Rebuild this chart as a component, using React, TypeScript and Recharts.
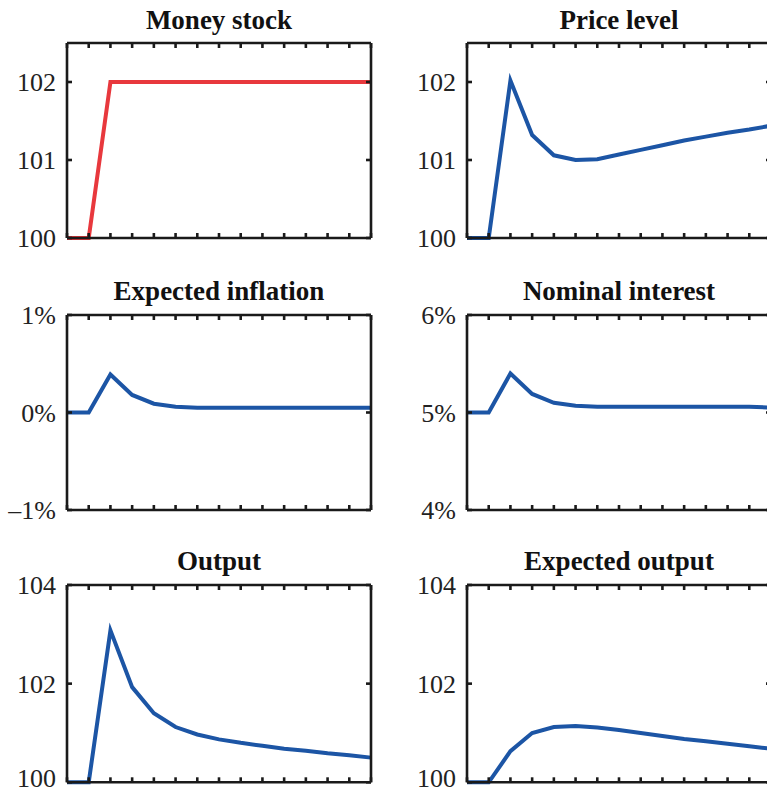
import React from "react";
import { LineChart, Line, XAxis, YAxis } from "recharts";

const steps = [0, 1, 2, 3, 4, 5, 6, 7, 8, 9, 10, 11, 12, 13, 14];

const moneyStock = [100, 100, 102, 102, 102, 102, 102, 102, 102, 102, 102, 102, 102, 102, 102];
const priceLevel = [100, 100, 102.02, 101.32, 101.06, 101.0, 101.01, 101.07, 101.13, 101.19, 101.25, 101.3, 101.35, 101.39, 101.44];
const expectedInflation = [0, 0, 0.39, 0.18, 0.09, 0.06, 0.05, 0.05, 0.05, 0.05, 0.05, 0.05, 0.05, 0.05, 0.05];
const nominalInterest = [5, 5, 5.4, 5.19, 5.1, 5.07, 5.06, 5.06, 5.06, 5.06, 5.06, 5.06, 5.06, 5.06, 5.05];
const output = [100, 100, 103.08, 101.93, 101.4, 101.12, 100.97, 100.87, 100.8, 100.74, 100.68, 100.64, 100.59, 100.55, 100.5];
const expectedOutput = [100, 100, 100.63, 101.0, 101.12, 101.14, 101.11, 101.06, 101.0, 100.94, 100.88, 100.83, 100.78, 100.73, 100.68];

const levelTicks = [100, 101, 102];
const levelDomain = [100, 102.5];
const inflationTicks = [-1, 0, 1];
const interestTicks = [4, 5, 6];
const outputTicks = [100, 102, 104];

const RED = "#e8383d";
const BLUE = "#1c55a5";
const INK = "#1a1a1a";
const SERIF = "'Liberation Serif', 'Times New Roman', serif";

const pct = (v: number) => (v < 0 ? "\u2013" + Math.abs(v) + "%" : v + "%");
const plain = (v: number) => String(v);

const NoLabel = () => <g />;

function makeLabel(fmt: (v: number) => string, bottomLimit: number) {
  return (props: any) => {
    const { x, y, payload } = props;
    const yy = Math.min(y, bottomLimit);
    return (
      <text
        x={x}
        y={yy}
        dy="0.355em"
        textAnchor="end"
        fontFamily={SERIF}
        fontSize={26}
        fill="#222"
      >
        {fmt(payload.value)}
      </text>
    );
  };
}

type PanelProps = {
  title: string;
  values: number[];
  color: string;
  domain: number[];
  ticks: number[];
  fmt: (v: number) => string;
  left: number;
  plotTop: number;
  plotHeight: number;
};

const AXIS_W = 67;
const PLOT_W = 304;
const M_TOP = 13;
const M_BOTTOM = 16;
const M_RIGHT = 12;
const TITLE_SIZE = 27;
const THIN = 0.01;
const PAGE_H = 792;

function Panel({ title, values, color, domain, ticks, fmt, left, plotTop, plotHeight }: PanelProps) {
  const data = steps.map((t, i) => ({ t, v: values[i] }));
  const width = AXIS_W + PLOT_W + M_RIGHT;
  const height = M_TOP + plotHeight + M_BOTTOM;
  const top = plotTop - M_TOP;
  const baseline = plotTop - 14;
  const titleTop = baseline - 22.6;
  const axisStroke = { stroke: INK, strokeWidth: 2.6 };
  const bottomLimit = PAGE_H - top - 14.5;
  const Label = makeLabel(fmt, bottomLimit);
  return (
    <>
      <div
        style={{
          position: "absolute",
          left: left + AXIS_W,
          top: titleTop,
          width: PLOT_W,
          textAlign: "center",
          fontFamily: SERIF,
          fontWeight: "bold",
          fontSize: TITLE_SIZE,
          lineHeight: TITLE_SIZE + "px",
          color: "#111",
          whiteSpace: "nowrap",
        }}
      >
        {title}
      </div>
      <div style={{ position: "absolute", left, top }}>
        <LineChart
          width={width}
          height={height}
          data={data}
          margin={{ top: M_TOP, right: M_RIGHT, bottom: M_BOTTOM, left: 0 }}
        >
          <XAxis
            xAxisId="b"
            dataKey="t"
            type="number"
            domain={[0, 14]}
            ticks={steps}
            interval={0}
            tick={NoLabel}
            mirror
            tickSize={5}
            height={THIN}
            axisLine={axisStroke}
            tickLine={axisStroke}
          />
          <XAxis
            xAxisId="t"
            orientation="top"
            dataKey="t"
            type="number"
            domain={[0, 14]}
            ticks={steps}
            interval={0}
            tick={NoLabel}
            mirror
            tickSize={5}
            height={THIN}
            axisLine={axisStroke}
            tickLine={axisStroke}
          />
          <YAxis
            yAxisId="l"
            type="number"
            domain={domain}
            ticks={ticks}
            interval={0}
            width={AXIS_W}
            tickSize={5}
            tickMargin={6}
            tick={Label}
            axisLine={false}
            tickLine={false}
          />
          <YAxis
            yAxisId="lm"
            type="number"
            domain={domain}
            ticks={ticks}
            interval={0}
            mirror
            width={THIN}
            tick={NoLabel}
            tickSize={5}
            axisLine={axisStroke}
            tickLine={axisStroke}
          />
          <YAxis
            yAxisId="r"
            orientation="right"
            type="number"
            domain={domain}
            ticks={ticks}
            interval={0}
            mirror
            width={THIN}
            tick={NoLabel}
            tickSize={5}
            axisLine={axisStroke}
            tickLine={axisStroke}
          />
          <Line
            xAxisId="t"
            yAxisId="lm"
            dataKey="v"
            type="linear"
            stroke="none"
            strokeWidth={0}
            dot={false}
            legendType="none"
            isAnimationActive={false}
          />
          <Line
            xAxisId="t"
            yAxisId="r"
            dataKey="v"
            type="linear"
            stroke="none"
            strokeWidth={0}
            dot={false}
            legendType="none"
            isAnimationActive={false}
          />
          <Line
            xAxisId="b"
            yAxisId="l"
            dataKey="v"
            type="linear"
            stroke={color}
            strokeWidth={4}
            dot={false}
            isAnimationActive={false}
          />
        </LineChart>
      </div>
    </>
  );
}

export default function App() {
  return (
    <div
      style={{
        position: "absolute",
        left: 0,
        top: 0,
        width: 767,
        height: 792,
        overflow: "hidden",
        background: "#fff",
      }}
    >
      <Panel title="Money stock" values={moneyStock} color={RED} domain={levelDomain} ticks={levelTicks} fmt={plain} left={0} plotTop={43.3} plotHeight={195} />
      <Panel title="Price level" values={priceLevel} color={BLUE} domain={levelDomain} ticks={levelTicks} fmt={plain} left={400} plotTop={43.3} plotHeight={195} />
      <Panel title="Expected inflation" values={expectedInflation} color={BLUE} domain={[-1, 1]} ticks={inflationTicks} fmt={pct} left={0} plotTop={314.5} plotHeight={195} />
      <Panel title="Nominal interest" values={nominalInterest} color={BLUE} domain={[4, 6]} ticks={interestTicks} fmt={pct} left={400} plotTop={314.5} plotHeight={195} />
      <Panel title="Output" values={output} color={BLUE} domain={[100, 104]} ticks={outputTicks} fmt={plain} left={0} plotTop={585} plotHeight={197.3} />
      <Panel title="Expected output" values={expectedOutput} color={BLUE} domain={[100, 104]} ticks={outputTicks} fmt={plain} left={400} plotTop={585} plotHeight={197.3} />
    </div>
  );
}
